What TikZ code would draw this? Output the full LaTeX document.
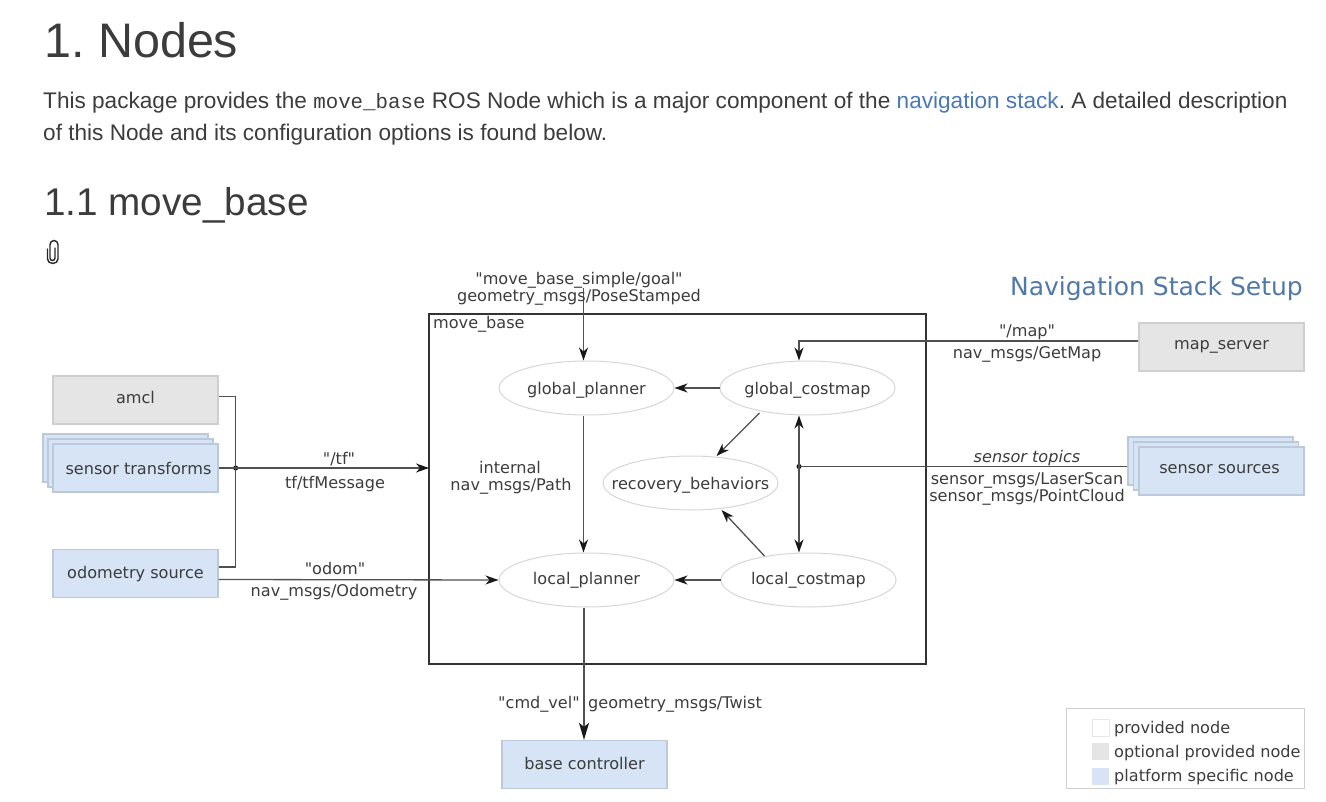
\documentclass[tikz,border=0pt]{standalone}
\usepackage{fontspec}
\setmainfont{Liberation Sans}
\setmonofont{Liberation Mono}
\newfontfamily\diagfont{DejaVu Sans}
\usetikzlibrary{arrows.meta, calc, shapes.geometric}

\definecolor{inktext}{HTML}{3C3C3C}
\definecolor{linkblue}{HTML}{4A78B8}
\definecolor{titleblue}{HTML}{5079A8}
\definecolor{optfill}{HTML}{E5E5E5}
\definecolor{optline}{HTML}{CFCFCF}
\definecolor{platfill}{HTML}{D6E4F5}
\definecolor{platline}{HTML}{BCC9DA}
\definecolor{wireink}{HTML}{505050}

\tikzset{
    nodebox/.style={rectangle, minimum width=165pt, minimum height=48pt, inner sep=0pt, line width=1.2pt,
        text=inktext, font=\diagfont\fontsize{16.1}{18}\selectfont},
    optbox/.style={nodebox, draw=optline, fill=optfill},
    platbox/.style={nodebox, draw=platline, fill=platfill},
    procell/.style={ellipse, draw=optline!85, line width=1pt, minimum width=175pt, minimum height=54pt,
        inner xsep=-30pt, inner ysep=0pt, text=inktext, font=\diagfont\fontsize{16.1}{18}\selectfont},
    wirelabel/.style={inner sep=0pt, text=inktext, text height=12pt, text depth=3pt, yshift=-1.5pt,
        font=\diagfont\fontsize{16.1}{18}\selectfont},
    swatch/.style={rectangle, minimum size=17pt, inner sep=0pt, line width=0.8pt},
    wire/.style={draw=wireink, line width=1.3pt},
    flow/.style={wire, -{Stealth[length=13pt, width=9pt, inset=4pt, color=black!90]}},
    junction/.style={circle, fill=black, minimum size=5pt, inner sep=0pt},
    pagetext/.style={anchor=base west, inner sep=0pt, text=inktext}
}

\begin{document}
\frenchspacing
\begin{tikzpicture}[x=1pt, y=-1pt]
    \useasboundingbox (0,0) rectangle (1326,802);

    % Page headings and paragraph
    \node[pagetext, font=\fontsize{48.5}{50}\selectfont] (pagehead) at (44,58) {1. Nodes};
    \node[pagetext, font=\fontsize{22.6}{26}\selectfont] (lineone) at (43,109)
        {This package provides the {\ttfamily\fontsize{20.8}{26}\selectfont move\_base} ROS Node which is a major component of the {\color{linkblue}navigation stack}. A detailed description};
    \node[pagetext, font=\fontsize{22.6}{26}\selectfont] (linetwo) at (43,141) {of this Node and its configuration options is found below.};
    \node[pagetext, font=\fontsize{38.7}{42}\selectfont] (subhead) at (44,216) {1.1 move\_base};

    % Paperclip
    \draw[black!85, line width=1.4pt, line cap=round]
        (47.5,249) -- (47.5,259) arc[start angle=180, end angle=360, x radius=5.25pt, y radius=4.5pt]
        -- (58,244.5) arc[start angle=0, end angle=180, x radius=4pt, y radius=4pt]
        -- (50,258) arc[start angle=180, end angle=360, x radius=2.5pt, y radius=2.5pt] -- (55,248);

    % Title
    \node[anchor=east, inner sep=0pt, text=titleblue, font=\diagfont\fontsize{25}{28}\selectfont] (stacktitle) at (1303,289) {Navigation Stack Setup};

    % The move_base frame
    \draw[draw=black!80, line width=2.2pt] (429,314) rectangle (926,664);
    \coordinate (frameleft) at (429,468);
    \node[wirelabel, anchor=west] (framelabel) at (433,323) {move\_base};

    % Left side nodes
    \node[optbox, text depth=6pt] (amcl) at (135.5,400) {amcl};
    \node[platbox] (transformsc) at (125.5,458) {};
    \node[platbox] (transformsb) at (130.5,463) {};
    \node[platbox] (transforms) at (135.5,468) {\hspace*{6pt}sensor transforms};
    \node[platbox, text height=14pt] (odometry) at (135.5,573.5) {odometry source};

    % Right side nodes
    \node[optbox] (mapserver) at (1221.5,347) {map\_server};
    \node[platbox] (sourcesc) at (1210.5,461) {};
    \node[platbox] (sourcesb) at (1216,466) {};
    \node[platbox, text depth=4pt] (sources) at (1221.5,471) {sensor sources\hspace*{4pt}};

    % Bottom node
    \node[platbox, text depth=2pt] (basecontrol) at (584.5,764.5) {base controller};

    % Nodes inside the frame
    \node[procell, text height=16pt] (gplanner) at (586.5,388) {global\_planner};
    \node[procell, text height=16pt] (gcostmap) at (807.5,388) {global\_costmap};
    \node[procell, text height=16pt] (recovery) at (690.5,483) {recovery\_behaviors};
    \node[procell] (lplanner) at (586.5,580) {local\_planner};
    \node[procell] (lcostmap) at (808.5,580) {local\_costmap};

    % Junctions
    \node[junction] (tfjoin) at (235.7,468) {};
    \node[junction] (sensorjoin) at (799,466.5) {};

    % Left wires
    \draw[wire] ($(amcl.east)+(0,-3.5)$) -| (tfjoin.center);
    \draw[wire] ($(odometry.east)+(0,-6.5)$) -| (tfjoin.center);
    \draw[flow] (transforms.east) -- (frameleft);
    \draw[flow] ($(odometry.east)+(0,6)$) -- (lplanner.west);

    % Goal input
    \coordinate (goalin) at (583.5,288);
    \draw[flow] (goalin) -- ([xshift=-3pt]gplanner.north);

    % Wires inside the frame
    \draw[flow] (gcostmap.west) -- (gplanner.east);
    \draw[flow] (lcostmap.west) -- (lplanner.east);
    \draw[flow] ([xshift=-3pt]gplanner.south) -- ([xshift=-3pt]lplanner.north);
    \draw[flow] ($(gcostmap.center)+(-48,25)$) -- ($(recovery.center)+(26,-27)$);
    \draw[flow] ($(lcostmap.center)+(-44,-24)$) -- ($(recovery.center)+(31,27)$);

    % Map and sensor wires
    \draw[flow] ($(mapserver.west)+(0,-6)$) -| ([xshift=-8.5pt]gcostmap.north);
    \draw[wire] ($(sourcesc.west)+(0,5.5)$) -- (sensorjoin.center);
    \draw[flow] (sensorjoin.center) -- ([xshift=-8.5pt]gcostmap.south);
    \draw[flow] (sensorjoin.center) -- ([xshift=-9.5pt]lcostmap.north);

    % Output to the base
    \draw[wire, line width=1.6pt, -{Stealth[length=17pt, width=10pt, inset=4pt, color=black!90]}] ([xshift=-2.5pt]lplanner.south) -- ([xshift=-.5pt]basecontrol.north);

    % Wire labels
    \node[wirelabel] (goalname) at (579,279) {"move\_base\_simple/goal"};
    \node[wirelabel] (goaltype) at (579,296) {geometry\_msgs/PoseStamped};
    \node[wirelabel] (tfname) at (339,458) {"/tf"};
    \node[wirelabel] (tftype) at (335,482) {tf/tfMessage};
    \node[wirelabel] (odomname) at (335,568) {"odom"};
    \node[wirelabel] (odomtype) at (334,590) {nav\_msgs/Odometry};
    \node[wirelabel] (pathname) at (510,467) {internal};
    \node[wirelabel] (pathtype) at (511,484) {nav\_msgs/Path};
    \node[wirelabel] (mapname) at (1027,331) {"/map"};
    \node[wirelabel] (maptype) at (1027,353) {nav\_msgs/GetMap};
    \node[wirelabel, font=\diagfont\itshape\fontsize{16.1}{18}\selectfont] (topicname) at (1027,456) {sensor topics};
    \node[wirelabel] (laserscan) at (1027,478) {sensor\_msgs/LaserScan};
    \node[wirelabel] (pointcloud) at (1027,495) {sensor\_msgs/PointCloud};
    \node[wirelabel] (cmdname) at (539,702) {"cmd\_vel"};
    \node[wirelabel] (cmdtype) at (675,702) {geometry\_msgs/Twist};

    % Legend
    \draw[draw=optline, line width=1pt] (1066,708) rectangle (1304,788);
    \node[swatch, draw=optline!50, fill=white] (keyprovided) at (1100.5,728) {};
    \node[swatch, fill=optfill] (keyoptional) at (1100.5,751.5) {};
    \node[swatch, fill=platfill] (keyplatform) at (1100.5,776) {};
    \node[wirelabel, anchor=west] (textprovided) at (1114,727) {provided node};
    \node[wirelabel, anchor=west] (textoptional) at (1114,751) {optional provided node};
    \node[wirelabel, anchor=west] (textplatform) at (1114,775) {platform specific node};
\end{tikzpicture}
\end{document}
